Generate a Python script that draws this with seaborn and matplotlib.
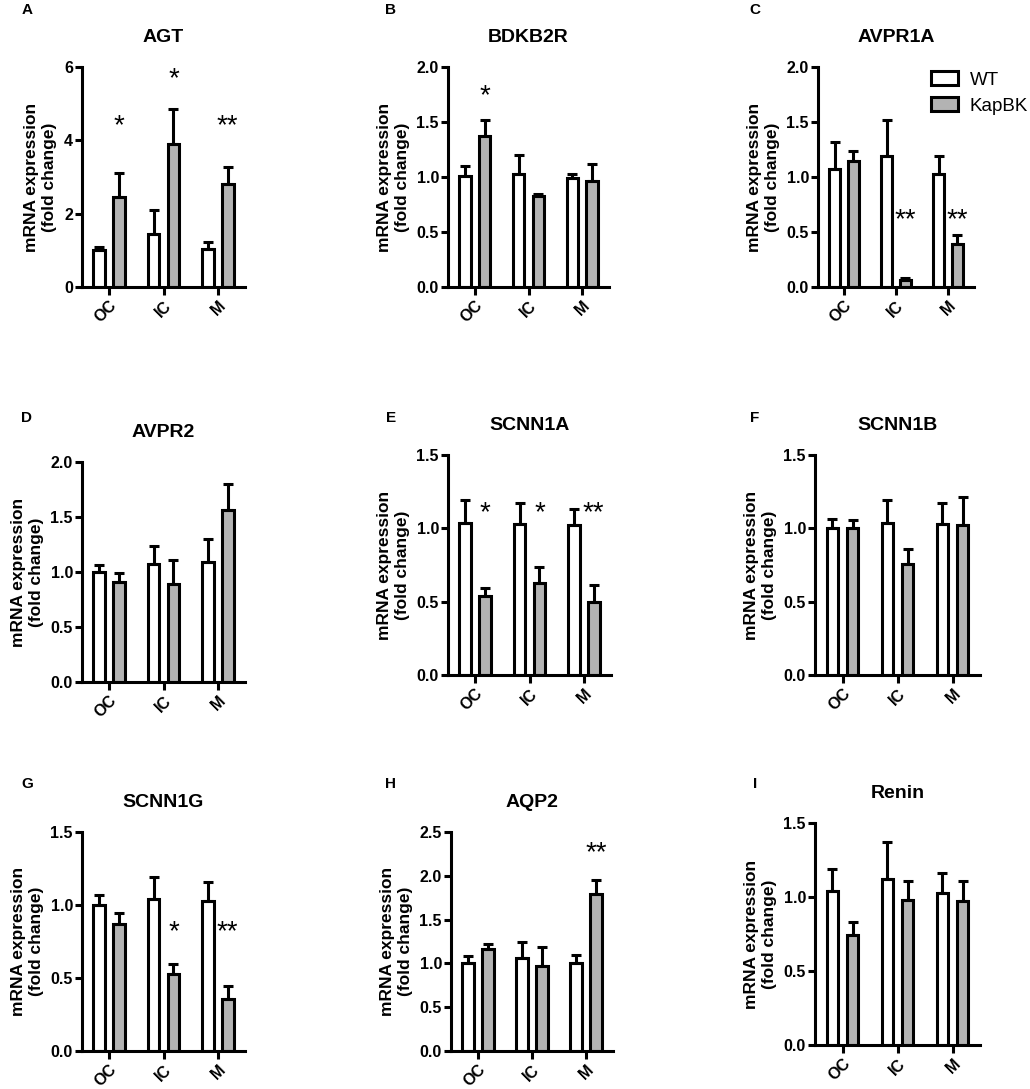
import numpy as np
import pandas as pd
import matplotlib
matplotlib.use("Agg")
import matplotlib.pyplot as plt
import seaborn as sns

# ---------------- data ----------------
regions = ["OC", "IC", "M"]
groups = ["WT", "KapBK"]

genes = ["AGT", "BDKB2R", "AVPR1A", "AVPR2", "SCNN1A", "SCNN1B", "SCNN1G", "AQP2", "Renin"]
letters = ["A", "B", "C", "D", "E", "F", "G", "H", "I"]
y_max = [6, 2.0, 2.0, 2.0, 1.5, 1.5, 1.5, 2.5, 1.5]
y_step = [2, 0.5, 0.5, 0.5, 0.5, 0.5, 0.5, 0.5, 0.5]

wt_mean = [
    [1.00, 1.45, 1.03],   # AGT
    [1.01, 1.03, 0.99],   # BDKB2R
    [1.075, 1.19, 1.03],  # AVPR1A
    [1.00, 1.07, 1.09],   # AVPR2
    [1.035, 1.03, 1.02],  # SCNN1A
    [1.00, 1.035, 1.03],  # SCNN1B
    [1.00, 1.04, 1.025],  # SCNN1G
    [1.00, 1.06, 1.00],   # AQP2
    [1.04, 1.12, 1.03],   # Renin
]
wt_sem = [
    [0.08, 0.65, 0.19],
    [0.09, 0.17, 0.04],
    [0.245, 0.325, 0.16],
    [0.06, 0.17, 0.21],
    [0.16, 0.14, 0.11],
    [0.065, 0.155, 0.145],
    [0.07, 0.15, 0.135],
    [0.09, 0.18, 0.10],
    [0.15, 0.25, 0.135],
]
kap_mean = [
    [2.45, 3.90, 2.80],
    [1.37, 0.83, 0.965],
    [1.15, 0.06, 0.39],
    [0.905, 0.895, 1.56],
    [0.54, 0.63, 0.50],
    [1.00, 0.76, 1.02],
    [0.87, 0.525, 0.355],
    [1.17, 0.975, 1.795],
    [0.74, 0.98, 0.97],
]
kap_sem = [
    [0.67, 0.95, 0.47],
    [0.145, 0.02, 0.155],
    [0.09, 0.025, 0.08],
    [0.085, 0.215, 0.24],
    [0.05, 0.105, 0.115],
    [0.055, 0.10, 0.195],
    [0.075, 0.07, 0.09],
    [0.05, 0.215, 0.155],
    [0.09, 0.125, 0.14],
]
stars = [
    ["*", "*", "**"],
    ["*", "", ""],
    ["", "**", "**"],
    ["", "", ""],
    ["*", "*", "**"],
    ["", "", ""],
    ["", "*", "**"],
    ["", "", "**"],
    ["", "", ""],
]
star_y = [
    [4.38, 5.68, 4.38],
    [1.73, 0, 0],
    [0, 0.61, 0.61],
    [0, 0, 0],
    [1.10, 1.10, 1.10],
    [0, 0, 0],
    [0, 0.815, 0.815],
    [0, 0, 2.26],
    [0, 0, 0],
]

# ---------------- style ----------------
sns.set_style("ticks")
plt.rcParams["font.family"] = ["Liberation Sans", "DejaVu Sans"]
for k in ["text.color", "axes.labelcolor", "xtick.color", "ytick.color", "axes.edgecolor"]:
    plt.rcParams[k] = "black"

W, H = 1030, 1089
fig = plt.figure(figsize=(W / 100, H / 100), dpi=100)

# axes boxes in pixels: left, top, right, bottom
boxes = [
    (82, 67, 245, 287), (448, 67, 609, 287), (818, 67, 974, 287),
    (82, 462, 245, 682), (448, 455, 611, 675), (815, 455, 980, 675),
    (82, 832, 245, 1051), (451, 832, 613, 1051), (815, 823, 980, 1045),
]
letter_pos = [
    (27, 10), (391, 10), (755, 10),
    (27, 418), (391, 418), (755, 418),
    (27, 784), (391, 784), (755, 784),
]

palette = {"WT": "white", "KapBK": "#b3b3b3"}
LW = 2.2

for i, gene in enumerate(genes):
    l, t, r, b = boxes[i]
    ax = fig.add_axes([l / W, 1 - b / H, (r - l) / W, (b - t) / H])
    df = pd.DataFrame({
        "region": regions * 2,
        "genotype": ["WT"] * 3 + ["KapBK"] * 3,
        "value": wt_mean[i] + kap_mean[i],
    })
    sns.barplot(data=df, x="region", y="value", hue="genotype", order=regions,
                hue_order=groups, palette=palette, saturation=1,
                edgecolor="black", linewidth=LW, width=0.73, gap=0.42,
                errorbar=None, ax=ax, legend=(letters[i] == "C"))
    for cont, sems in zip(ax.containers, [wt_sem[i], kap_sem[i]]):
        for patch, s in zip(cont, sems):
            x = patch.get_x() + patch.get_width() / 2
            y = patch.get_height()
            ax.errorbar(x, y, yerr=[[0], [s]], fmt="none", ecolor="black",
                        elinewidth=LW, capsize=3.5, capthick=LW, zorder=1)
    kap_patches = list(ax.containers[1])
    for j, lab in enumerate(stars[i]):
        if lab:
            p = kap_patches[j]
            ax.text(p.get_x() + p.get_width() / 2, star_y[i][j], lab,
                    ha="center", va="center", fontsize=20)

    ax.set_xlim(-0.5, 2.5)
    ax.set_ylim(0, y_max[i])
    ticks = np.arange(0, y_max[i] + 1e-9, y_step[i])
    ax.set_yticks(ticks)
    if y_step[i] >= 1:
        ax.set_yticklabels([f"{v:.0f}" for v in ticks])
    else:
        ax.set_yticklabels([f"{v:.1f}" for v in ticks])
    ax.set_xticks(range(3))
    ax.set_xticklabels(regions, rotation=45, ha="right", rotation_mode="anchor")
    for lab in ax.get_yticklabels() + ax.get_xticklabels():
        lab.set_fontweight("bold")
    ax.tick_params(axis="y", labelsize=11.5, width=LW, length=5, pad=1.5)
    ax.tick_params(axis="x", labelsize=11.5, width=LW, length=6, pad=2)
    for sp in ["top", "right"]:
        ax.spines[sp].set_visible(False)
    for sp in ["left", "bottom"]:
        ax.spines[sp].set_linewidth(LW)
        ax.spines[sp].set_color("black")
    ax.set_xlabel("")
    ax.set_ylabel("mRNA expression\n(fold change)", fontsize=12.5,
                  fontweight="bold", labelpad=5, linespacing=1.25)
    ax.set_title(gene, fontsize=14, fontweight="bold", pad=18)

    fx, fy = letter_pos[i]
    fig.text(fx / W, 1 - fy / H, letters[i], ha="center", va="center",
             fontsize=11, fontweight="bold")

    if letters[i] == "C":
        handles, labels = ax.get_legend_handles_labels()
        if ax.legend_ is not None:
            ax.legend_.remove()
        for h in handles:
            h.set_edgecolor("black")
            h.set_linewidth(LW)
        fig.legend(handles, labels, loc="upper left",
                   bbox_to_anchor=(931 / W, 1 - 71 / H),
                   bbox_transform=fig.transFigure, frameon=False,
                   borderpad=0, borderaxespad=0, handletextpad=0.6,
                   handlelength=1.45, handleheight=0.8, labelspacing=0.45,
                   fontsize=13.5)

fig.savefig("out.png", dpi=100)
